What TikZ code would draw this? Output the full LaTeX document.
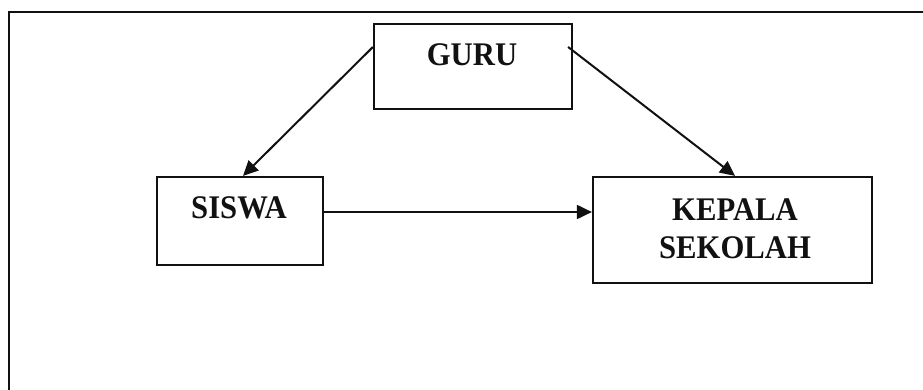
\documentclass[tikz,border=0pt]{standalone}
\usepackage{fontspec}
\setmainfont{Liberation Serif}[FakeStretch=0.93]
\usepackage{xcolor}
\usetikzlibrary{calc,arrows.meta}
\definecolor{ink}{HTML}{111111}
\tikzset{
  frame/.style={draw=ink, line width=1.8pt},
  box/.style={draw=ink, line width=2.2pt, rectangle, inner sep=0pt},
  lab/.style={text=ink, font=\fontsize{33}{38}\selectfont\bfseries, align=center, inner sep=0pt},
  arr/.style={draw=ink, line width=2pt, -{Triangle[length=15pt,width=14pt]}},
}
\begin{document}
\begin{tikzpicture}[x=1pt,y=-1pt]
  \useasboundingbox (0,0) rectangle (923,390);
  \draw[frame] (923,12) -- (9,12) -- (9,390);

  % boxes
  \node[box,minimum width=198pt,minimum height=85pt] (guru) at (473,66.5) {};
  \node[box,minimum width=166pt,minimum height=88pt] (siswa) at (240,221) {};
  \node[box,minimum width=279pt,minimum height=106pt] (kepala) at (732.5,230) {};

  % texts
  \node[lab] (gurulab) at (472,55) {GURU};
  \node[lab] (siswalab) at (239,208) {SISWA};
  \node[lab] (kepalalab) at (735,229) {KEPALA\\SEKOLAH};

  % connectors
  \coordinate (sout) at ([yshift=9pt]siswa.east);
  \draw[arr] ([yshift=19.5pt]guru.west) -- ([xshift=3pt]siswa.north);
  \draw[arr] ([xshift=-5pt,yshift=19.5pt]guru.east) -- ([xshift=2.5pt]kepala.north);
  \draw[arr] (sout) -- (sout -| kepala.west);
\end{tikzpicture}
\end{document}
